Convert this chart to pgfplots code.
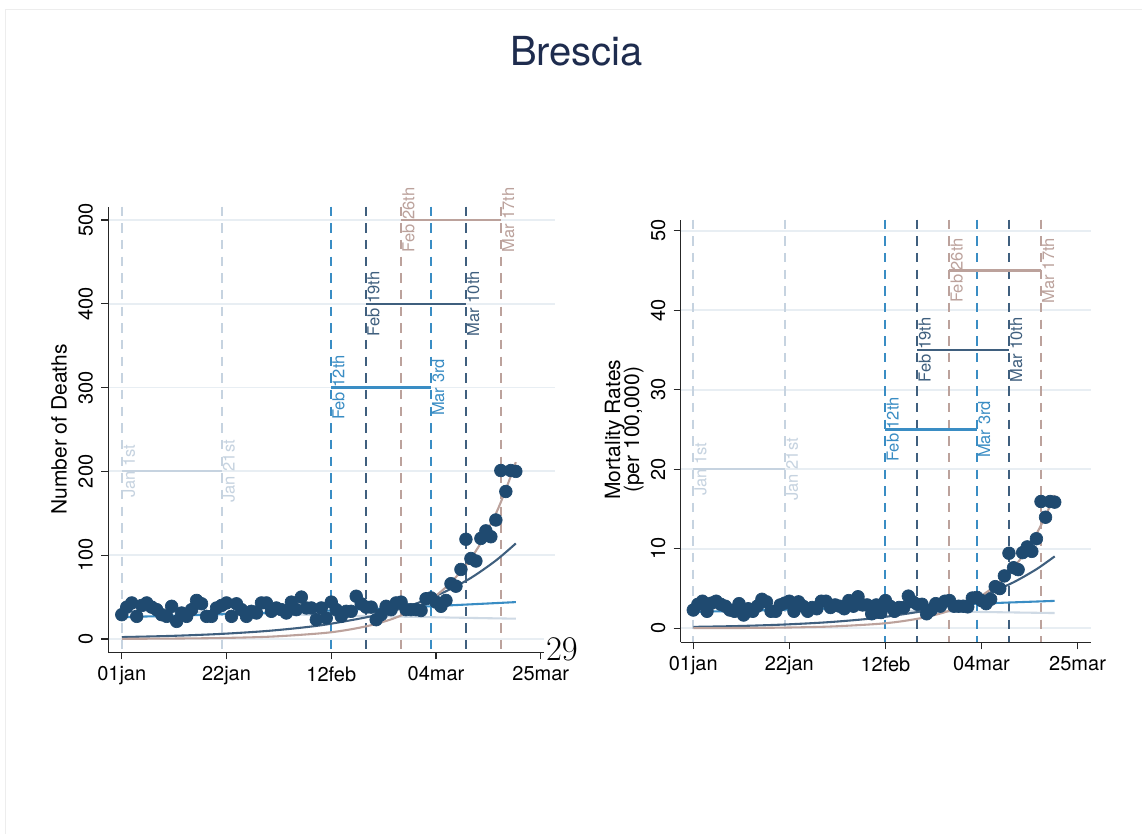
\documentclass[border=0pt]{standalone}
\usepackage{pgfplots}
\pgfplotsset{compat=1.18}
\usepackage{pgfplotstable}
\usepackage{fontspec}
\setmainfont{TeX Gyre Heros}
\definecolor{cNavy}{HTML}{1F4A70}
\definecolor{cLight}{HTML}{C6D3E0}
\definecolor{cBlue}{HTML}{3A8DC4}
\definecolor{cSlate}{HTML}{3F5F7E}
\definecolor{cTaupe}{HTML}{BCA29C}
\definecolor{cGrid}{HTML}{E8EEF3}
\definecolor{cTitle}{HTML}{1E2C4E}

\pgfplotstableread{
d deaths rate
0 29 2.30
1 38 3.02
2 43 3.41
3 27 2.14
4 40 3.17
5 43 3.41
6 38 3.02
7 35 2.78
8 29 2.30
9 27 2.14
10 39 3.10
11 21 1.67
12 31 2.46
13 27 2.14
14 35 2.78
15 46 3.65
16 42 3.33
17 27 2.14
18 27 2.14
19 37 2.94
20 40 3.17
21 43 3.41
22 27 2.14
23 42 3.33
24 35 2.78
25 27 2.14
26 33 2.62
27 31 2.46
28 43 3.41
29 43 3.41
30 33 2.62
31 37 2.94
32 35 2.78
33 31 2.46
34 44 3.49
35 35 2.78
36 50 3.97
37 37 2.94
38 37 2.94
39 23 1.83
40 37 2.94
41 25 1.98
42 44 3.49
43 35 2.78
44 27 2.14
45 33 2.62
46 33 2.62
47 51 4.05
48 42 3.33
49 38 3.02
50 38 3.02
51 23 1.83
52 29 2.30
53 39 3.10
54 35 2.78
55 43 3.41
56 44 3.49
57 35 2.78
58 35 2.78
59 35 2.78
60 34 2.70
61 48 3.81
62 49 3.89
63 44 3.49
64 39 3.10
65 46 3.65
66 66 5.24
67 63 5.00
68 83 6.59
69 119 9.44
70 96 7.62
71 93 7.38
72 120 9.52
73 129 10.24
74 122 9.68
75 142 11.27
76 201 15.95
77 176 13.97
78 201 15.95
79 200 15.87
}\deathtab

\pgfplotstableread{
d light blue
0 34.0 26.0
20 31.2 29.5
40 28.5 33.5
60 26.2 38.5
79 24.2 44.0
}\linfitL
\pgfplotstableread{
d light blue
0 2.70 2.06
20 2.48 2.34
40 2.26 2.66
60 2.08 3.06
79 1.92 3.45
}\linfitR
\pgfplotstableread{
d slate slateR
0 2.25 0.18
10 3.70 0.29
20 6.09 0.48
30 10.0 0.79
40 16.4 1.30
50 27.0 2.14
55 34.6 2.75
60 44.4 3.52
65 56.9 4.52
70 72.9 5.79
75 93.6 7.43
79 114.0 9.05
}\slatefit
\pgfplotstableread{
d taupe taupeR
0 0.20 0.016
10 0.49 0.039
20 1.17 0.093
30 2.83 0.225
40 6.82 0.54
45 10.6 0.84
50 16.5 1.31
55 25.6 2.03
60 39.7 3.15
63 51.7 4.10
66 67.5 5.36
69 88.0 6.98
72 114.7 9.10
75 149.5 11.87
77 178.4 14.16
79 211.0 16.75
}\taupefit

\pgfplotsset{
  stata/.style={
    scale only axis, clip=false,
    axis x line=bottom, axis y line=left,
    axis line style={-, line width=0.75pt, black!85},
    every tick/.style={line width=0.75pt, black!85},
    tick align=outside, major tick length=4.2pt,
    xtick={0,21,42,63,84}, xticklabels={01jan,22jan,12feb,04mar,25mar},
    xmin=-2.7, xmax=86.85,
    ymajorgrids, grid style={line width=1.1pt, cGrid},
    xticklabel style={font=\fontsize{12}{14}\selectfont, anchor=north, inner sep=0pt, yshift=-4.2pt},
    yticklabel style={font=\fontsize{12}{14}\selectfont, xshift=-4.8pt, rotate=90, anchor=south, inner sep=0pt},
    /pgf/number format/assume math mode=true,
  },
  vl/.style={dash pattern=on 5.6pt off 4.4pt, line width=1.2pt, no marks},
  br/.style={line width=1.3pt, no marks},
  fit/.style={line width=1.25pt, smooth, no marks},
}
\tikzset{lab/.style={rotate=90, anchor=north, inner sep=0.5pt, font=\fontsize{9.9}{12}\selectfont}}

\begin{document}
\begin{tikzpicture}
\begin{scope}[x=0.6pt,y=-0.6pt]
\useasboundingbox (0,0) rectangle (1142,834);
\fill[white] (0,0) rectangle (1142,834);
\draw[line width=0.6pt, black!7] (1142,9) -- (5,9) -- (5,834);
\end{scope}

% ---------- left panel
\begin{axis}[stata, at={(64.98pt,-391.38pt)}, anchor=south west,
  width=268.0pt, height=267.4pt, ymin=-15.9, ymax=515.9, ytick={0,100,200,300,400,500}]
\addplot[vl, cLight] coordinates {(0,515.9)(0,-15.9)};
\addplot[vl, cLight] coordinates {(20,515.9)(20,-15.9)};
\addplot[vl, cBlue] coordinates {(42,515.9)(42,-15.9)};
\addplot[vl, cSlate] coordinates {(49,515.9)(49,-15.9)};
\addplot[vl, cTaupe] coordinates {(56,515.9)(56,-15.9)};
\addplot[vl, cBlue] coordinates {(62,515.9)(62,-15.9)};
\addplot[vl, cSlate] coordinates {(69,515.9)(69,-15.9)};
\addplot[vl, cTaupe] coordinates {(76,515.9)(76,-15.9)};
\addplot[br, cLight] coordinates {(0,200)(20,200)};
\addplot[br, cBlue] coordinates {(42,300)(62,300)};
\addplot[br, cSlate] coordinates {(49,400)(69,400)};
\addplot[br, cTaupe] coordinates {(56,500)(76,500)};
\addplot[only marks, mark=*, mark size=3.8pt, cNavy] table[x=d,y=deaths]{\deathtab};
\addplot[fit, cLight!85!white] table[x=d,y=light]{\linfitL};
\addplot[fit, cBlue] table[x=d,y=blue]{\linfitL};
\addplot[fit, cSlate] table[x=d,y=slate]{\slatefit};
\addplot[fit, cTaupe] table[x=d,y=taupe]{\taupefit};
\node[lab, text=cLight] at (axis cs:0,200) {Jan 1st};
\node[lab, text=cLight] at (axis cs:20,200) {Jan 21st};
\node[lab, text=cBlue] at (axis cs:42,300) {Feb 12th};
\node[lab, text=cBlue] at (axis cs:62,300) {Mar 3rd};
\node[lab, text=cSlate] at (axis cs:49,400) {Feb 19th};
\node[lab, text=cSlate] at (axis cs:69,400) {Mar 10th};
\node[lab, text=cTaupe] at (axis cs:56,500) {Feb 26th};
\node[lab, text=cTaupe] at (axis cs:76,500) {Mar 17th};
\end{axis}

% ---------- right panel
\begin{axis}[stata, at={(408.42pt,-385.38pt)}, anchor=south west,
  width=246.1pt, height=253.6pt, xmin=-2.75, xmax=86.9, ymin=-1.76, ymax=51.4, ytick={0,10,20,30,40,50}]
\addplot[vl, cLight] coordinates {(0,51.4)(0,-1.76)};
\addplot[vl, cLight] coordinates {(20,51.4)(20,-1.76)};
\addplot[vl, cBlue] coordinates {(42,51.4)(42,-1.76)};
\addplot[vl, cSlate] coordinates {(49,51.4)(49,-1.76)};
\addplot[vl, cTaupe] coordinates {(56,51.4)(56,-1.76)};
\addplot[vl, cBlue] coordinates {(62,51.4)(62,-1.76)};
\addplot[vl, cSlate] coordinates {(69,51.4)(69,-1.76)};
\addplot[vl, cTaupe] coordinates {(76,51.4)(76,-1.76)};
\addplot[br, cLight] coordinates {(0,20)(20,20)};
\addplot[br, cBlue] coordinates {(42,25)(62,25)};
\addplot[br, cSlate] coordinates {(49,35)(69,35)};
\addplot[br, cTaupe] coordinates {(56,45)(76,45)};
\addplot[only marks, mark=*, mark size=3.8pt, cNavy] table[x=d,y=rate]{\deathtab};
\addplot[fit, cLight!85!white] table[x=d,y=light]{\linfitR};
\addplot[fit, cBlue] table[x=d,y=blue]{\linfitR};
\addplot[fit, cSlate] table[x=d,y=slateR]{\slatefit};
\addplot[fit, cTaupe] table[x=d,y=taupeR]{\taupefit};
\node[lab, text=cLight] at (axis cs:0,20) {Jan 1st};
\node[lab, text=cLight] at (axis cs:20,20) {Jan 21st};
\node[lab, text=cBlue] at (axis cs:42,25) {Feb 12th};
\node[lab, text=cBlue] at (axis cs:62,25) {Mar 3rd};
\node[lab, text=cSlate] at (axis cs:49,35) {Feb 19th};
\node[lab, text=cSlate] at (axis cs:69,35) {Mar 10th};
\node[lab, text=cTaupe] at (axis cs:56,45) {Feb 26th};
\node[lab, text=cTaupe] at (axis cs:76,45) {Mar 17th};
\end{axis}

\begin{scope}[x=0.6pt,y=-0.6pt]
\node[anchor=base, text=cTitle, font=\fontsize{24}{28}\selectfont, inner sep=0pt] at (576.5,65) {Brescia};
\node[rotate=90, anchor=base, font=\fontsize{12.6}{15}\selectfont, inner sep=0pt] at (66.7,429.5) {Number of Deaths};
\node[rotate=90, anchor=base, font=\fontsize{12.6}{15}\selectfont, inner sep=0pt] at (620,429.8) {Mortality Rates};
\node[rotate=90, anchor=base, font=\fontsize{12.6}{15}\selectfont, inner sep=0pt] at (639,429.8) {(per 100,000)};
\node[anchor=base west, fill=white, inner sep=1pt, font=\fontsize{20.5}{24}\selectfont] at (544,660.5) {$29$};
\end{scope}
\end{tikzpicture}
\end{document}
